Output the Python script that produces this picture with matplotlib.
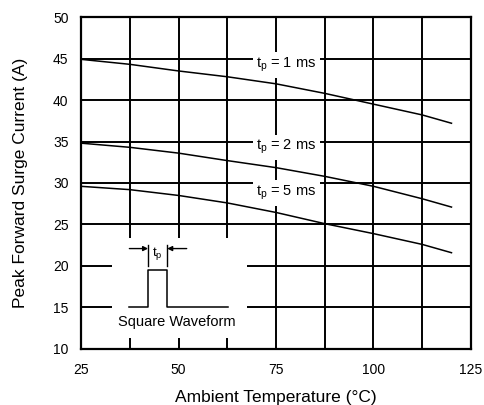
import matplotlib
matplotlib.use('Agg')
import matplotlib.pyplot as plt
from matplotlib.patches import Rectangle

plt.rcParams['font.family'] = ['Liberation Sans', 'DejaVu Sans']

# Derating data: peak forward surge current vs ambient temperature
temps = [25, 37.5, 50, 62.5, 75, 87.5, 100, 112.5, 120]
i_1ms = [44.9, 44.3, 43.5, 42.8, 41.95, 40.8, 39.5, 38.2, 37.2]
i_2ms = [34.8, 34.3, 33.6, 32.7, 31.85, 30.8, 29.6, 28.1, 27.1]
i_5ms = [29.6, 29.2, 28.5, 27.6, 26.45, 25.1, 23.9, 22.6, 21.6]
curve_labels = ['1 ms', '2 ms', '5 ms']

# square pulse sketch for the inset
pulse_x = [37.4, 42.2, 42.2, 47.1, 47.1, 62.8]
pulse_y = [15, 15, 19.5, 19.5, 15, 15]

x_ticks = [25, 50, 75, 100, 125]
y_ticks = [10, 15, 20, 25, 30, 35, 40, 45, 50]

fig = plt.figure(figsize=(4.84, 4.05), dpi=100)
ax = fig.add_axes([0.1674, 0.1383, 0.8057, 0.8197])

ax.set_xlim(25, 125)
ax.set_ylim(10, 50)
ax.set_xticks(x_ticks)
ax.set_xticks([37.5, 62.5, 87.5, 112.5], minor=True)
ax.set_yticks(y_ticks)
ax.tick_params(which='both', length=0, labelsize=10)
ax.tick_params(axis='x', pad=10)
ax.tick_params(axis='y', pad=9)
ax.set_axisbelow(True)
ax.grid(True, which='both', color='black', linewidth=1.4)
for s in ax.spines.values():
    s.set_linewidth(1.6)

for ys in (i_1ms, i_2ms, i_5ms):
    ax.plot(temps, ys, color='black', linewidth=1.1, zorder=3)

box = dict(boxstyle='square,pad=0.25', facecolor='white', edgecolor='none')
ax.text(77.7, 44.2, r'$\mathregular{t_p}$ = ' + curve_labels[0], ha='center', va='center',
        fontsize=10.5, bbox=box, zorder=2)
ax.text(77.7, 34.3, r'$\mathregular{t_p}$ = ' + curve_labels[1], ha='center', va='center',
        fontsize=10.5, bbox=box, zorder=2)
ax.text(77.7, 28.8, r'$\mathregular{t_p}$ = ' + curve_labels[2], ha='center', va='center',
        fontsize=10.5, bbox=box, zorder=2)

# inset: blank out the grid and sketch the pulse
ax.add_patch(Rectangle((33, 11.3), 34.5, 12.1, facecolor='white', edgecolor='none', zorder=1))
ax.plot(pulse_x, pulse_y, color='black', linewidth=1.1, zorder=3)
for xe in (pulse_x[1], pulse_x[3]):
    ax.plot([xe, xe], [20.0, 22.5], color='black', linewidth=1.0, zorder=3)
arrow = dict(arrowstyle='-|>', color='black', linewidth=1.0, mutation_scale=7, shrinkA=0, shrinkB=0)
ax.annotate('', xy=(pulse_x[1], 22.1), xytext=(37.4, 22.1), arrowprops=arrow, zorder=3)
ax.annotate('', xy=(pulse_x[3], 22.1), xytext=(52.1, 22.1), arrowprops=arrow, zorder=3)
ax.text(44.65, 21.5, r'$\mathregular{t_p}$', ha='center', va='center', fontsize=9.5, zorder=3)
ax.text(49.5, 13.3, 'Square Waveform', ha='center', va='center', fontsize=10.5, zorder=3)

ax.set_xlabel('Ambient Temperature (°C)', fontsize=12.5, labelpad=9.5)
ax.set_ylabel('Peak Forward Surge Current (A)', fontsize=12.5, labelpad=18)

fig.savefig('out.png', dpi=100)
